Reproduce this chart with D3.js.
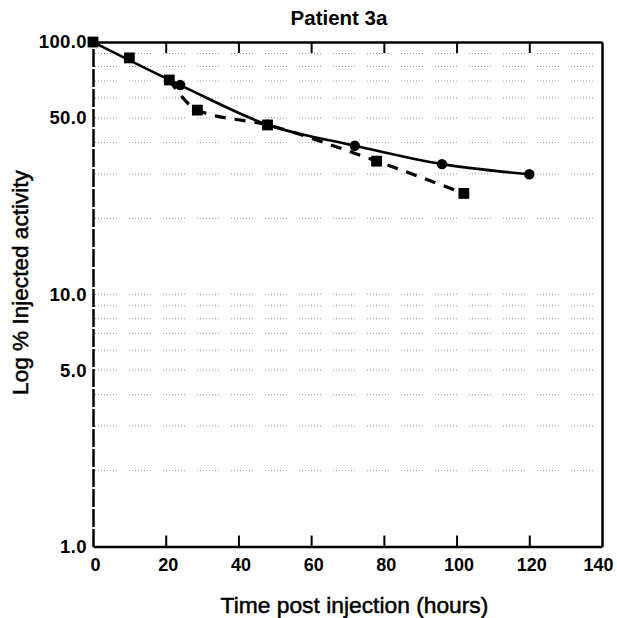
<!DOCTYPE html>
<html><head><meta charset="utf-8">
<script src="https://cdn.jsdelivr.net/npm/d3@7"></script>
<style>
body{margin:0;background:#fff}
svg{display:block}
text{font-family:"Liberation Sans",Arial,Helvetica,sans-serif;fill:#000}
</style>
</head><body><div id="chart"></div>
<script>
// ---- data ----
const chartTitle = "Patient 3a";
const xTitle = "Time post injection (hours)";
const yTitle = "Log % Injected activity";
const xTickValues = [0, 20, 40, 60, 80, 100, 120, 140];
const xInnerTicks = [20, 40, 60, 80, 100, 120];
const yTickValues = [1, 5, 10, 50, 100];
const yTickLabels = ["1.0", "5.0", "10.0", "50.0", "100.0"];
const gridValues = [2, 3, 4, 5, 6, 7, 8, 9, 10, 20, 30, 40, 50, 60, 70, 80, 90];
const circleHours = [0, 24, 48, 72, 96, 120];
const circleActivity = [100, 67.5, 47, 38.8, 32.8, 29.9];
const squareHours = [0, 10, 21, 28.7, 48, 78, 102];
const squareActivity = [100, 86.5, 70.7, 53.7, 46.9, 33.7, 25.1];

// ---- layout ----
const W = 617, H = 618;
const pLeft = 93, pRight = 602, pTop = 42, pBottom = 546.5;

const svg = d3.select("#chart").append("svg").attr("width", W).attr("height", H);

const x = d3.scaleLinear().domain([0, 140]).range([pLeft, pRight]);
const y = d3.scaleLog().domain([1, 100]).range([pBottom, pTop]);

// grid (dotted, faint)
svg.append("g").selectAll("line").data(gridValues).join("line")
  .attr("x1", pLeft + 2).attr("x2", pRight - 2)
  .attr("y1", d => y(d)).attr("y2", d => y(d))
  .attr("stroke", "#999").attr("stroke-width", 1)
  .attr("stroke-dasharray", "1 2 1 2 1 2 1 2 1 2 1 2 1 2 1 12");

// bottom axis
const gx = svg.append("g").attr("transform", `translate(0,${pBottom})`)
  .call(d3.axisBottom(x).tickValues(xTickValues).tickSizeInner(-11).tickSizeOuter(0).tickPadding(11.5).tickFormat(d3.format("d")));
gx.selectAll(".tick line").attr("stroke-width", 2).filter(d => d === 0 || d === 140).remove();
gx.select(".domain").attr("stroke-width", 2.5);
gx.selectAll("text").style("font-size", "18px").style("font-weight", "bold")
  .attr("x", d => d === 140 ? -4 : 2);

// top axis
const gt = svg.append("g").attr("transform", `translate(0,${pTop})`)
  .call(d3.axisTop(x).tickValues(xInnerTicks).tickSizeInner(-11).tickSizeOuter(0).tickFormat(""));
gt.selectAll(".tick line").attr("stroke-width", 2);
gt.select(".domain").attr("stroke-width", 2.5);

// right axis
const gr = svg.append("g").attr("transform", `translate(${pRight},0)`)
  .call(d3.axisRight(y).tickValues([]).tickSizeOuter(0));
gr.select(".domain").attr("stroke-width", 2.5);

// left axis
const gl = svg.append("g").attr("transform", `translate(${pLeft},0)`)
  .call(d3.axisLeft(y).tickValues(yTickValues).tickSize(0).tickPadding(6)
    .tickFormat((d) => yTickLabels[yTickValues.indexOf(d)]));
gl.select(".domain").attr("stroke-width", 2.5).attr("stroke-dasharray", "18 2");
gl.selectAll("text").style("font-size", "18.5px").style("font-weight", "bold").style("letter-spacing", "0.4px");

svg.selectAll(".tick text").attr("fill", "#000");

// lines
const circleData = circleHours.map((h, i) => ({ h, v: circleActivity[i] }));
const squareData = squareHours.map((h, i) => ({ h, v: squareActivity[i] }));
const line = d3.line().x(d => x(d.h)).y(d => y(d.v)).curve(d3.curveMonotoneX);

// dashed series (its first segments run along the solid line)
svg.append("path").datum(squareData.slice(2)).attr("d", line)
  .attr("fill", "none").attr("stroke", "#000").attr("stroke-width", 3.2)
  .attr("stroke-dasharray", "11 9");
svg.append("path").datum(circleData).attr("d", line)
  .attr("fill", "none").attr("stroke", "#000").attr("stroke-width", 2.6);

// markers
svg.append("g").selectAll("circle").data(circleData).join("circle")
  .attr("cx", d => x(d.h)).attr("cy", d => y(d.v)).attr("r", 5.2).attr("fill", "#000");
svg.append("g").selectAll("rect").data(squareData).join("rect")
  .attr("x", d => x(d.h) - 5.4).attr("y", d => y(d.v) - 5.4)
  .attr("width", 10.8).attr("height", 10.8).attr("fill", "#000");

// titles
svg.append("text").attr("x", 339).attr("y", 25).attr("text-anchor", "middle")
  .style("font-size", "20.5px").style("font-weight", "bold").text(chartTitle);
svg.append("text").attr("x", 354.5).attr("y", 613).attr("text-anchor", "middle")
  .style("font-size", "22.8px").attr("stroke", "#000").attr("stroke-width", 0.5).text(xTitle);
svg.append("text").attr("transform", "translate(28,282.5) rotate(-90)").attr("text-anchor", "middle")
  .style("font-size", "22.6px").attr("stroke", "#000").attr("stroke-width", 0.5).text(yTitle);
</script>
</body></html>
